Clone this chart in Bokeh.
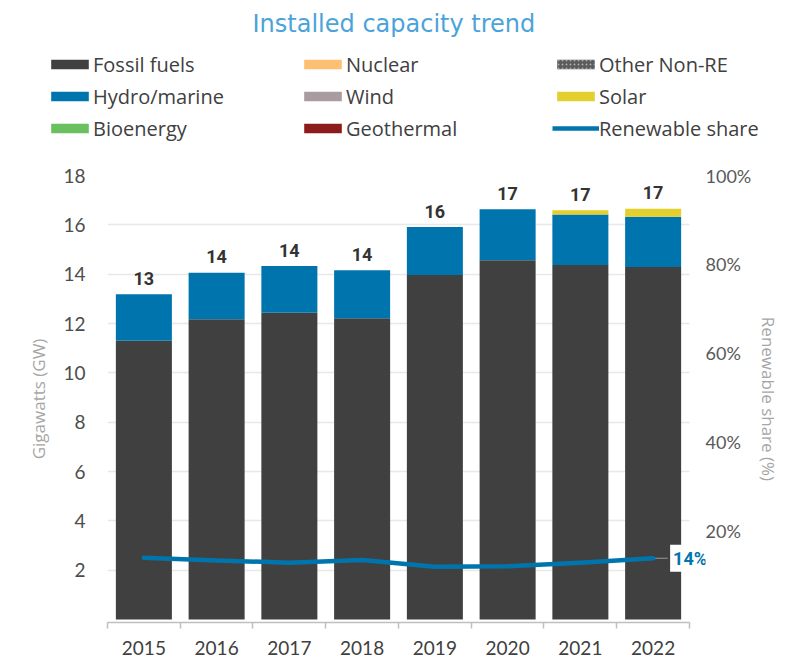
from bokeh.plotting import figure
from bokeh.layouts import column
from bokeh.models import (Range1d, LinearAxis, FixedTicker, Legend, LegendItem,
                          PrintfTickFormatter, ColumnDataSource, Title)
from bokeh.core.properties import value
from bokeh.embed import file_html
from bokeh.resources import INLINE

# ---------------- data ----------------
years = ["2015", "2016", "2017", "2018", "2019", "2020", "2021", "2022"]
fossil = [11.30, 12.17, 12.44, 12.21, 13.97, 14.56, 14.37, 14.29]
hydro = [1.89, 1.89, 1.89, 1.95, 1.94, 2.07, 2.05, 2.04]
solar = [0.00, 0.00, 0.00, 0.00, 0.00, 0.00, 0.17, 0.32]
nuclear = [0, 0, 0, 0, 0, 0, 0, 0]
other_nonre = [0, 0, 0, 0, 0, 0, 0, 0]
wind = [0, 0, 0, 0, 0, 0, 0, 0]
bioenergy = [0, 0, 0, 0, 0, 0, 0, 0]
geothermal = [0, 0, 0, 0, 0, 0, 0, 0]
renewable_share = [13.9, 13.3, 12.8, 13.4, 11.9, 12.0, 12.8, 13.8]

gw_ticks = [2, 4, 6, 8, 10, 12, 14, 16, 18]
pct_ticks = [20, 40, 60, 80, 100]

# ---------------- derived ----------------
n = len(years)
xs = [i + 0.5 for i in range(n)]
bounds = list(range(n + 1))
totals = [f + h + s for f, h, s in zip(fossil, hydro, solar)]
total_labels = [str(round(t)) for t in totals]

src = ColumnDataSource(dict(
    x=xs, fossil=fossil, other=other_nonre, nuclear=nuclear, hydro=hydro,
    wind=wind, bio=bioenergy, geo=geothermal, solar=solar,
    total=totals, total_label=total_labels, share=renewable_share,
))

FONT = "Open Sans"
TICK = "Lato"
BOLD = "Roboto"
BLUE = "#0075AD"

stack_keys = ["fossil", "other", "nuclear", "hydro", "wind", "bio", "geo", "solar"]
colors = ["#404040", "#5a5a5a", "#FDBF72", BLUE, "#A89C9E", "#6ABF5E", "#8E1B1B", "#E3CF2E"]
names = {"fossil": "Fossil fuels", "hydro": "Hydro/marine", "bio": "Bioenergy",
         "nuclear": "Nuclear", "wind": "Wind", "geo": "Geothermal",
         "other": "Other Non-RE", "solar": "Solar"}

W = 800

# ================= header: title + legend =================
hdr = figure(width=W, height=162, x_range=Range1d(0, 1), y_range=Range1d(0, 1),
             x_axis_type=None, y_axis_type=None, title=None,
             toolbar_location=None, output_backend="svg",
             min_border=0, outline_line_color=None)
hdr.frame_align = False
hdr.grid.visible = False
hdr.add_layout(Title(text="Installed capacity trend", align="left", offset=252,
                     standoff=14, text_font="DejaVu Sans", text_font_size="24px",
                     text_font_style="normal", text_color="#4BA3DA"), "above")

# legend proxies (zero-height bar / single point: nothing visible is drawn)
leg_r = {}
for key, col in zip(stack_keys, colors):
    kw = {}
    if key == "other":
        kw = dict(hatch_pattern="dot", hatch_color="#aaaaaa", hatch_scale=4)
    leg_r[key] = hdr.vbar(x=[0.5], top=[0], bottom=0, width=0.5,
                          fill_color=col, line_color=None, **kw)
leg_line = hdr.line(x=[0.5], y=[0], line_color=BLUE, line_width=4.5)

order = ["fossil", "hydro", "bio", "nuclear", "wind", "geo", "other", "solar"]
items = [LegendItem(label=names[k], renderers=[leg_r[k]]) for k in order]
items.append(LegendItem(label="Renewable share", renderers=[leg_line]))
legend = Legend(items=items, location=(46, 18), orientation="vertical", nrows=3,
                glyph_width=47, glyph_height=12, label_standoff=-2,
                label_width=206, label_height=32, spacing=0, padding=0, margin=0,
                border_line_color=None, background_fill_alpha=0,
                label_text_font=FONT, label_text_font_size="20px",
                label_text_color="#404040")
hdr.add_layout(legend, "center")

# ================= main chart =================
y_lo = -0.12
y_hi = 18
p = figure(width=W, height=495, title=None,
           x_range=Range1d(0, n + 0.22), y_range=Range1d(y_lo, y_hi),
           output_backend="svg", toolbar_location=None,
           min_border_left=107, min_border_right=95,
           min_border_top=13, min_border_bottom=35,
           outline_line_color=None)
p.frame_align = False
p.extra_y_ranges = {"pct": Range1d(y_lo * 100 / y_hi, 100)}

renderers = p.vbar_stack(stack_keys, x="x", width=0.77, source=src,
                         color=colors, line_color=None)

# totals above bars
p.text(x="x", y="total", text="total_label", source=src,
       text_align="center", text_baseline="alphabetic", y_offset=-16,
       text_font=value(BOLD), text_font_style="bold",
       text_font_size="18px", text_color="#333333")

# renewable share line
p.segment(x0=[xs[-1]], y0=[renewable_share[-1]], x1=[xs[-1] + 0.2],
          y1=[renewable_share[-1]], y_range_name="pct",
          line_color="#999999", line_width=1)
p.line(x="x", y="share", source=src, y_range_name="pct",
       line_color=BLUE, line_width=4.5, line_join="round", line_cap="round")
p.text(x=[xs[-1]], y=[renewable_share[-1]],
       text=[f"{round(renewable_share[-1])}%"], y_range_name="pct",
       x_offset=17, text_align="left", text_baseline="middle",
       text_font=value(BOLD), text_font_style="bold",
       text_font_size="18px", text_color=BLUE,
       background_fill_color="white", padding=3)

# axes
p.xaxis.ticker = FixedTicker(ticks=xs, minor_ticks=bounds)
p.xaxis.bounds = (0, n)
p.xaxis.major_label_overrides = {x: y for x, y in zip(xs, years)}
p.xaxis.major_tick_line_color = None
p.xaxis.major_tick_out = 0
p.xaxis.major_tick_in = 0
p.xaxis.minor_tick_out = 6
p.xaxis.minor_tick_in = 0
p.xaxis.minor_tick_line_color = "#bfbfbf"
p.xaxis.minor_tick_line_width = 1.5
p.xaxis.axis_line_color = "#bfbfbf"
p.xaxis.axis_line_width = 1.5
p.xaxis.major_label_standoff = 12
p.xaxis.major_label_text_font = TICK
p.xaxis.major_label_text_font_size = "19px"
p.xaxis.major_label_text_color = "#404040"

p.yaxis.ticker = FixedTicker(ticks=gw_ticks)
p.yaxis.axis_label = "Gigawatts (GW)"
p.yaxis.axis_label_text_font = FONT
p.yaxis.axis_label_text_font_size = "17px"
p.yaxis.axis_label_text_font_style = "normal"
p.yaxis.axis_label_text_color = "#a6a6a6"
p.yaxis.axis_label_standoff = 10
p.yaxis.major_label_standoff = 22
p.yaxis.major_tick_out = 0
p.yaxis.major_tick_in = 0
p.yaxis.major_tick_line_color = None
p.yaxis.minor_tick_line_color = None
p.yaxis.axis_line_color = None
p.yaxis.major_label_text_font = TICK
p.yaxis.major_label_text_font_size = "19px"
p.yaxis.major_label_text_color = "#4d4d4d"

raxis = LinearAxis(y_range_name="pct", ticker=FixedTicker(ticks=pct_ticks),
                   formatter=PrintfTickFormatter(format="%d%%"),
                   axis_label="Renewable share (%)")
raxis.axis_label_text_font = FONT
raxis.axis_label_text_font_size = "17px"
raxis.axis_label_text_font_style = "normal"
raxis.axis_label_text_color = "#a6a6a6"
raxis.axis_label_standoff = 3
raxis.major_label_standoff = 0
raxis.major_tick_out = 0
raxis.major_tick_in = 0
raxis.major_tick_line_color = None
raxis.minor_tick_line_color = None
raxis.axis_line_color = None
raxis.major_label_text_font = TICK
raxis.major_label_text_font_size = "18px"
raxis.major_label_text_color = "#595959"
p.add_layout(raxis, "right")

p.xgrid.visible = False
p.ygrid.ticker = FixedTicker(ticks=gw_ticks)
p.ygrid.cross_bounds = (0, n)
p.ygrid.grid_line_color = "#e8e8e8"
p.ygrid.grid_line_width = 1.5

layout = column(hdr, p, spacing=0)
open("out.html", "w").write(file_html(layout, INLINE))
